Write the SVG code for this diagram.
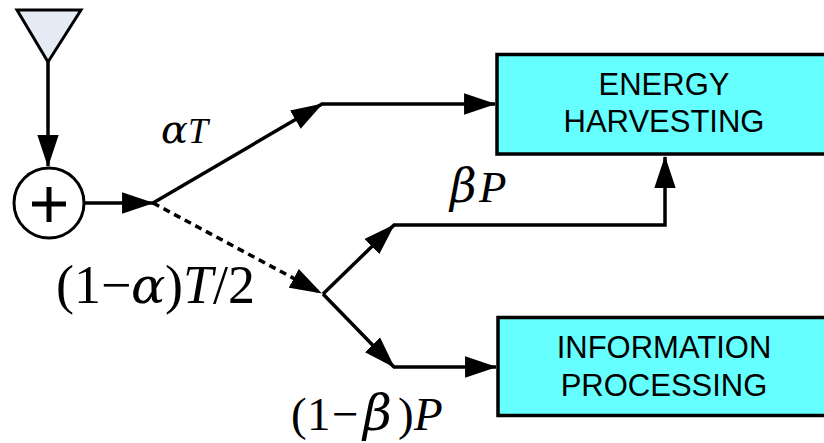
<svg xmlns="http://www.w3.org/2000/svg" width="824" height="443" viewBox="0 0 824 443">
<style>
.ln{stroke:#000;stroke-width:3.5;fill:none}
.dash{stroke-dasharray:7 5}
.box{fill:#66ffff;stroke:#000;stroke-width:3.5}
.lbl{font-family:"Liberation Sans",Arial,sans-serif;font-size:31px;text-anchor:middle;fill:#000}
.m{font-family:"Liberation Serif","Times New Roman",serif;fill:#000}
.i{font-style:italic}
.g{font-family:"DejaVu Serif","Liberation Serif",serif;font-style:italic}
</style>
<defs>
<marker id="ah" markerUnits="userSpaceOnUse" markerWidth="32" markerHeight="22" viewBox="0 0 30 20" refX="29" refY="10" orient="auto">
<path d="M0,0 L30,10 L0,20 Z" fill="#000"/>
</marker>
</defs>
<rect width="824" height="443" fill="#fff"/>
<g id="antenna">
<polygon points="17,10 81,10 48,62" fill="#e4ebf5" stroke="#000" stroke-width="3"/>
</g>
<g id="adder">
<circle cx="49" cy="203" r="35" fill="#fff" stroke="#000" stroke-width="3"/>
<path d="M32,204 H66 M49,187 V222" stroke="#000" stroke-width="5" fill="none"/>
</g>
<g id="energy-harvesting">
<rect class="box" x="497" y="54.5" width="340" height="99.5"/>
<text class="lbl" x="664" y="95">ENERGY</text>
<text class="lbl" x="664" y="132">HARVESTING</text>
</g>
<g id="information-processing">
<rect class="box" x="498" y="317.5" width="340" height="98"/>
<text class="lbl" x="664" y="358">INFORMATION</text>
<text class="lbl" x="664" y="396">PROCESSING</text>
</g>
<g id="connectors">
<path class="ln" d="M48,62 L48,166" marker-end="url(#ah)"/>
<path class="ln" d="M85,203 L153,203" marker-end="url(#ah)"/>
<path class="ln" d="M153,203 L322,104" marker-end="url(#ah)"/>
<path class="ln" d="M321,104 L495,104" marker-end="url(#ah)"/>
<path class="ln dash" d="M153,203 L321,293" marker-end="url(#ah)"/>
<path class="ln" d="M323,294 L394,225" marker-end="url(#ah)"/>
<path class="ln" d="M393,225 L665,225 L665,157" marker-end="url(#ah)"/>
<path class="ln" d="M323,294 L394,367" marker-end="url(#ah)"/>
<path class="ln" d="M393,367 L496,367" marker-end="url(#ah)"/>
</g>
<g id="labels">
<text class="m" y="143" font-size="36"><tspan class="g" x="161" font-size="40">α</tspan><tspan class="i" x="188">T</tspan></text>
<text class="m" y="202" font-size="45"><tspan class="g" x="450" font-size="46">β</tspan><tspan class="i" x="479">P</tspan></text>
<text class="m" y="303" font-size="54"><tspan x="56">(</tspan><tspan x="74">1</tspan><tspan x="101">−</tspan><tspan class="g" x="131" font-size="51">α</tspan><tspan x="165">)</tspan><tspan class="i" x="183">T</tspan><tspan x="213">/</tspan><tspan x="228">2</tspan></text>
<text class="m" y="430" font-size="47"><tspan x="291">(</tspan><tspan x="307">1</tspan><tspan x="332">−</tspan><tspan class="g" x="363" font-size="50">β</tspan><tspan x="398">)</tspan><tspan class="i" x="414">P</tspan></text>
</g>
</svg>
